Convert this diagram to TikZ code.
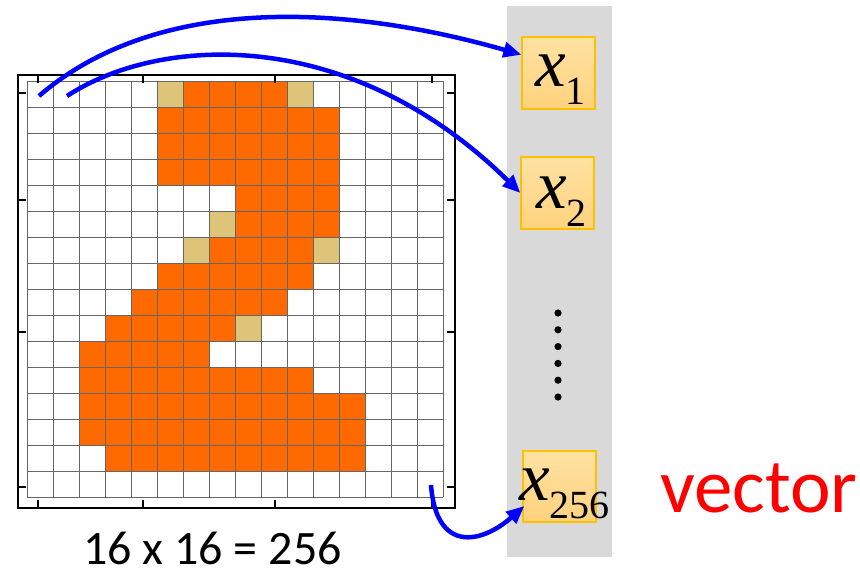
\documentclass[tikz,border=0pt]{standalone}
\usepackage{fontspec}
\setmainfont{Liberation Serif}
\newfontfamily\calib{Carlito}
\usepackage{tikz}
\usetikzlibrary{arrows.meta, positioning, calc}
\definecolor{pixorange}{RGB}{255,106,0}
\definecolor{pixtan}{RGB}{222,196,120}
\definecolor{barbg}{RGB}{217,217,217}
\definecolor{boxtop}{RGB}{255,226,163}
\definecolor{boxbot}{RGB}{255,210,125}
\definecolor{boxline}{RGB}{255,192,0}
\definecolor{arrowblue}{RGB}{0,0,255}
\definecolor{vecred}{RGB}{255,0,0}
\newcommand{\xsub}[1]{{\fontsize{69}{69}\selectfont\itshape x}\raisebox{-18pt}{\fontsize{40}{40}\selectfont #1}}

\tikzset{
  elem/.style={draw=boxline, line width=1.2pt, top color=boxtop, bottom color=boxbot,
    minimum width=73pt, minimum height=72pt, inner sep=0pt},
  link/.style={arrowblue, line width=4.5pt, -{Triangle[length=18pt,width=15pt]}},
  lab/.style={anchor=base west, inner sep=0pt},
}

\begin{document}
\begin{tikzpicture}[x=1pt, y=-1pt]
  \useasboundingbox (0,0) rectangle (860,568);
  \fill[white] (0,0) rectangle (860,568);
  % the 16x16 image
  \begin{scope}[shift={(27,81)}]
    \foreach \row/\lo/\hi in {0/6/9, 1/5/11, 2/5/11, 3/5/11, 4/8/11, 5/8/11, 6/7/10, 7/5/10,
                              8/4/9, 9/3/7, 10/2/6, 11/2/10, 12/2/12, 13/2/12, 14/3/12} {
      \fill[pixorange] ({\lo*26}, {\row*26}) rectangle ({(\hi+1)*26}, {(\row+1)*26});
    }
    \foreach \col/\row in {5/0, 10/0, 7/5, 6/6, 11/6, 8/9} {
      \fill[pixtan] ({\col*26}, {\row*26}) rectangle ({(\col+1)*26}, {(\row+1)*26});
    }
    \foreach \i in {0,...,16} {
      \draw[black!60, line width=1pt] ({\i*26}, 0) -- ({\i*26}, 416);
      \draw[black!60, line width=1pt] (0, {\i*26}) -- (416, {\i*26});
    }
  \end{scope}
  \draw[line width=2pt] (17.5,74.5) rectangle (454.5,507.5);
  \foreach \t in {38,143,275,432} {
    \draw[line width=2pt] (\t,74.5) -- ++(0,8);
    \draw[line width=2pt] (\t,507.5) -- ++(0,-8);
  }
  \foreach \t in {93,200,332,487} {
    \draw[line width=2pt] (17.5,\t) -- ++(8,0);
    \draw[line width=2pt] (454.5,\t) -- ++(-8,0);
  }
  \node[anchor=base, inner sep=0pt, text depth=0pt, font=\calib\fontsize{48}{48}\selectfont] (gridlab) at (212.5,564) {16 x 16 = 256};

  % the vector
  \node[fill=barbg, minimum width=105pt, minimum height=551pt, inner sep=0pt] (vecbar) at (559.5,281.5) {};
  \node[elem] (box1) at (558.5,73) {};
  \node[elem] (box2) at (557.5,193) {};
  \node[elem, minimum height=71pt] (box256) at (559.5,486.5) {};
  \node[lab] (lab1) at (535,86) {\xsub{1}};
  \node[lab] (lab2) at (536,208) {\xsub{2}};
  \node[lab] (lab256) at (519,500) {\xsub{256}};
  \foreach \k in {0,...,5} {
    \fill (558, {313+\k*16.8}) circle (3.6);
  }
  \node[lab, text=vecred, font=\calib\fontsize{77}{77}\selectfont] (veclab) at (660,512) {vector};

  \coordinate (src1) at (39,96);
  \coordinate (src2) at (67,96);
  \coordinate (src3) at (431,485);
  \draw[link] (src1) .. controls (150,0) and (330,0) .. ($(box1.north west)!0.25!(box1.south west)$);
  \draw[link] (src2) .. controls (160,35) and (350,25) .. (box2.west);
  \draw[link] (src3) .. controls (436,552) and (480,545) .. ($(box256.north west)!0.77!(box256.south west)+(2,0)$);
\end{tikzpicture}
\end{document}
